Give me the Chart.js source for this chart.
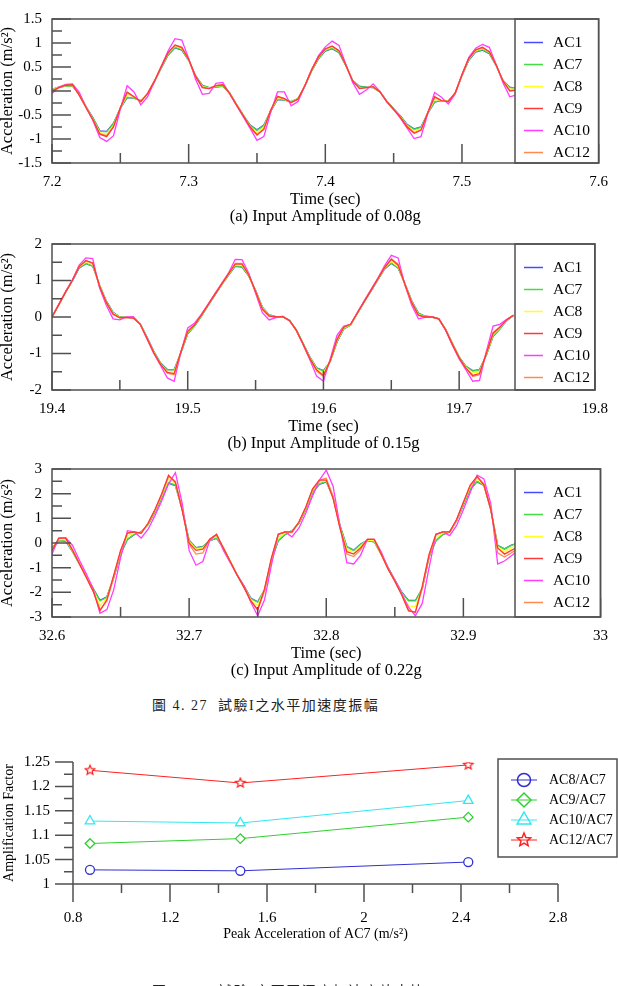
<!DOCTYPE html>
<html>
<head>
<meta charset="utf-8">
<title>Test I acceleration amplitude</title>
<script src="https://cdn.jsdelivr.net/npm/chart.js@4.4.1/dist/chart.umd.min.js"></script>
<style>
  body { margin: 0; background: #fff; }
  #page { position: relative; width: 618px; height: 986px; overflow: hidden; background: #fff; }
  #page canvas { position: absolute; left: 0; }
  .caption { position: absolute; left: 152px; font-family: "Liberation Serif", "Noto Sans CJK TC", serif; font-size: 14px; line-height: 16px; color: #222; white-space: pre; letter-spacing: 1.5px; }
</style>
</head>
<body>
<div id="page">
  <canvas id="chartA" width="618" height="226" style="top:0px"></canvas>
  <canvas id="chartB" width="618" height="228" style="top:225px"></canvas>
  <canvas id="chartC" width="618" height="230" style="top:450px"></canvas>
  <div class="caption" style="top:698px">圖 4. 27  試驗I之水平加速度振幅</div>
  <canvas id="chartD" width="618" height="256" style="top:730px"></canvas>
  <div class="caption" style="top:984px">圖 4. 28  試驗I之不同深度加速度放大比</div>
</div>
<script>
// (a) input amplitude 0.08g
const timeA = [7.2,7.205,7.21,7.215,7.22,7.225,7.23,7.235,7.24,7.245,
  7.25,7.255,7.26,7.265,7.27,7.275,7.28,7.285,7.29,7.295,
  7.3,7.305,7.31,7.315,7.32,7.325,7.33,7.335,7.34,7.345,
  7.35,7.355,7.36,7.365,7.37,7.375,7.38,7.385,7.39,7.395,
  7.4,7.405,7.41,7.415,7.42,7.425,7.43,7.435,7.44,7.445,
  7.45,7.455,7.46,7.465,7.47,7.475,7.48,7.485,7.49,7.495,
  7.5,7.505,7.51,7.515,7.52,7.525,7.53,7.535,7.54];
const ac1A = [0.03,0.08,0.10,0.10,-0.07,-0.33,-0.56,-0.83,-0.84,-0.67,-0.36,-0.14,-0.15,-0.20,-0.06,0.20,0.48,0.75,0.90,0.85,0.64,0.32,0.12,0.07,0.08,0.10,-0.04,-0.28,-0.50,-0.71,-0.81,-0.71,-0.42,-0.18,-0.19,-0.22,-0.16,0.10,0.42,0.67,0.83,0.88,0.80,0.53,0.22,0.10,0.08,0.07,-0.02,-0.21,-0.37,-0.52,-0.70,-0.79,-0.75,-0.46,-0.23,-0.20,-0.20,-0.05,0.32,0.64,0.81,0.85,0.78,0.53,0.22,0.08,0.05];
const ac7A = [0.03,0.08,0.10,0.10,-0.07,-0.33,-0.57,-0.84,-0.85,-0.68,-0.36,-0.13,-0.15,-0.20,-0.06,0.20,0.49,0.76,0.91,0.86,0.64,0.32,0.11,0.07,0.08,0.10,-0.04,-0.28,-0.50,-0.72,-0.82,-0.72,-0.42,-0.17,-0.19,-0.22,-0.16,0.10,0.42,0.68,0.84,0.89,0.81,0.53,0.22,0.09,0.08,0.07,-0.02,-0.21,-0.37,-0.53,-0.71,-0.80,-0.76,-0.46,-0.22,-0.20,-0.20,-0.05,0.32,0.65,0.82,0.86,0.79,0.53,0.22,0.07,0.05];
const ac8A = [0.02,0.08,0.11,0.12,-0.08,-0.34,-0.59,-0.87,-0.90,-0.72,-0.36,-0.07,-0.13,-0.21,-0.05,0.21,0.50,0.78,0.94,0.89,0.65,0.31,0.09,0.06,0.10,0.12,-0.04,-0.28,-0.51,-0.74,-0.87,-0.76,-0.41,-0.14,-0.17,-0.23,-0.16,0.11,0.43,0.70,0.86,0.92,0.83,0.54,0.21,0.07,0.07,0.08,-0.02,-0.22,-0.38,-0.54,-0.73,-0.84,-0.79,-0.45,-0.17,-0.20,-0.21,-0.04,0.33,0.67,0.84,0.89,0.81,0.54,0.21,0.04,0.04];
const ac9A = [0.00,0.07,0.12,0.13,-0.09,-0.35,-0.60,-0.90,-0.95,-0.75,-0.35,-0.02,-0.12,-0.22,-0.05,0.21,0.51,0.80,0.96,0.91,0.66,0.31,0.07,0.05,0.11,0.13,-0.05,-0.29,-0.52,-0.75,-0.92,-0.80,-0.40,-0.11,-0.16,-0.24,-0.17,0.11,0.44,0.71,0.88,0.94,0.84,0.54,0.21,0.05,0.07,0.09,-0.02,-0.22,-0.38,-0.55,-0.75,-0.88,-0.82,-0.45,-0.12,-0.20,-0.22,-0.04,0.34,0.68,0.86,0.91,0.82,0.54,0.21,0.00,0.02];
const ac10A = [-0.05,0.08,0.14,0.15,-0.03,-0.35,-0.62,-0.97,-1.05,-0.93,-0.38,0.11,-0.02,-0.29,-0.12,0.20,0.52,0.84,1.09,1.06,0.68,0.25,-0.07,-0.05,0.16,0.18,-0.06,-0.30,-0.54,-0.78,-1.03,-0.95,-0.45,-0.02,-0.02,-0.31,-0.22,0.11,0.45,0.74,0.92,1.04,0.95,0.56,0.18,-0.07,0.02,0.15,-0.01,-0.23,-0.39,-0.57,-0.78,-0.99,-0.95,-0.47,-0.03,-0.13,-0.27,-0.06,0.34,0.70,0.89,0.97,0.91,0.55,0.17,-0.12,-0.08];
const ac12A = [0.01,0.07,0.12,0.12,-0.09,-0.35,-0.60,-0.89,-0.93,-0.74,-0.35,-0.04,-0.12,-0.22,-0.05,0.21,0.51,0.79,0.95,0.90,0.66,0.31,0.08,0.05,0.11,0.13,-0.05,-0.29,-0.52,-0.75,-0.90,-0.79,-0.40,-0.12,-0.16,-0.24,-0.17,0.11,0.44,0.71,0.87,0.93,0.84,0.54,0.21,0.06,0.07,0.09,-0.02,-0.22,-0.38,-0.55,-0.74,-0.87,-0.81,-0.45,-0.13,-0.20,-0.22,-0.04,0.34,0.68,0.85,0.90,0.82,0.54,0.21,0.01,0.02];
const xTicksA = ['7.2', '7.3', '7.4', '7.5', '7.6'];
const xMinorA = [7.25, 7.35, 7.45, 7.55];
const yTicksA = ['-1.5', '-1', '-0.5', '0', '0.5', '1', '1.5'];
const yMinorA = [-1.25, -0.75, -0.25, 0.25, 0.75, 1.25];

// (b) input amplitude 0.15g
const timeB = [19.4,19.405,19.41,19.415,19.42,19.425,19.43,19.435,19.44,19.445,
  19.45,19.455,19.46,19.465,19.47,19.475,19.48,19.485,19.49,19.495,
  19.5,19.505,19.51,19.515,19.52,19.525,19.53,19.535,19.54,19.545,
  19.55,19.555,19.56,19.565,19.57,19.575,19.58,19.585,19.59,19.595,
  19.6,19.605,19.61,19.615,19.62,19.625,19.63,19.635,19.64,19.645,
  19.65,19.655,19.66,19.665,19.67,19.675,19.68,19.685,19.69,19.695,
  19.7,19.705,19.71,19.715,19.72,19.725,19.73,19.735,19.74];
const ac1B = [0.00,0.34,0.68,0.99,1.34,1.46,1.39,0.88,0.44,0.13,0.00,-0.01,-0.03,-0.18,-0.55,-0.94,-1.26,-1.44,-1.44,-0.98,-0.46,-0.25,0.02,0.32,0.60,0.88,1.14,1.39,1.37,1.12,0.73,0.27,0.06,0.01,0.01,-0.09,-0.35,-0.72,-1.09,-1.39,-1.47,-1.22,-0.69,-0.33,-0.22,0.10,0.41,0.71,1.01,1.31,1.47,1.34,0.92,0.45,0.11,0.02,0.00,-0.05,-0.34,-0.72,-1.09,-1.35,-1.47,-1.44,-1.05,-0.53,-0.33,-0.10,0.04];
const ac7B = [0.00,0.34,0.68,1.00,1.35,1.47,1.40,0.88,0.43,0.12,0.00,-0.01,-0.03,-0.18,-0.56,-0.95,-1.27,-1.45,-1.45,-0.98,-0.45,-0.25,0.02,0.32,0.61,0.88,1.15,1.40,1.38,1.12,0.72,0.26,0.06,0.01,0.01,-0.09,-0.35,-0.72,-1.10,-1.40,-1.48,-1.22,-0.68,-0.32,-0.22,0.10,0.41,0.72,1.02,1.32,1.48,1.35,0.92,0.44,0.10,0.02,0.00,-0.05,-0.34,-0.73,-1.10,-1.36,-1.48,-1.45,-1.05,-0.52,-0.32,-0.10,0.04];
const ac8B = [0.00,0.34,0.68,1.00,1.37,1.51,1.44,0.86,0.41,0.10,-0.01,-0.01,-0.03,-0.19,-0.57,-0.97,-1.29,-1.49,-1.50,-0.96,-0.42,-0.23,0.04,0.33,0.62,0.89,1.17,1.43,1.42,1.14,0.71,0.24,0.04,0.00,0.01,-0.10,-0.36,-0.73,-1.12,-1.43,-1.54,-1.21,-0.65,-0.30,-0.21,0.10,0.42,0.73,1.03,1.34,1.53,1.38,0.91,0.42,0.07,0.01,0.00,-0.05,-0.35,-0.74,-1.11,-1.38,-1.54,-1.50,-1.02,-0.48,-0.30,-0.09,0.05];
const ac9B = [0.00,0.34,0.68,1.00,1.38,1.55,1.48,0.85,0.40,0.08,-0.02,-0.01,-0.03,-0.20,-0.58,-0.98,-1.30,-1.52,-1.55,-0.95,-0.40,-0.22,0.05,0.33,0.62,0.90,1.18,1.45,1.45,1.15,0.70,0.22,0.03,0.00,0.01,-0.10,-0.36,-0.74,-1.14,-1.45,-1.60,-1.20,-0.62,-0.28,-0.20,0.11,0.42,0.73,1.04,1.35,1.58,1.42,0.90,0.40,0.05,0.00,0.00,-0.05,-0.35,-0.75,-1.12,-1.40,-1.60,-1.55,-1.00,-0.45,-0.28,-0.08,0.05];
const ac10B = [0.00,0.35,0.70,1.02,1.42,1.62,1.60,0.80,0.32,-0.05,-0.08,0.00,0.01,-0.20,-0.60,-1.00,-1.33,-1.67,-1.76,-0.96,-0.30,-0.17,0.07,0.35,0.64,0.92,1.20,1.58,1.57,1.20,0.65,0.12,-0.08,-0.02,0.02,-0.10,-0.37,-0.76,-1.17,-1.62,-1.76,-1.15,-0.50,-0.25,-0.20,0.13,0.44,0.75,1.06,1.40,1.69,1.62,0.88,0.33,-0.05,-0.01,0.01,-0.05,-0.36,-0.77,-1.15,-1.45,-1.76,-1.74,-0.95,-0.25,-0.20,-0.06,0.05];
const ac12B = [0.00,0.34,0.68,1.00,1.38,1.54,1.47,0.84,0.39,0.07,-0.02,-0.01,-0.03,-0.20,-0.58,-0.98,-1.30,-1.54,-1.58,-0.95,-0.38,-0.21,0.05,0.33,0.62,0.90,1.18,1.47,1.47,1.16,0.69,0.20,0.02,0.00,0.01,-0.10,-0.36,-0.74,-1.14,-1.48,-1.63,-1.19,-0.60,-0.27,-0.20,0.11,0.42,0.73,1.04,1.36,1.60,1.45,0.89,0.38,0.04,0.00,0.00,-0.05,-0.35,-0.75,-1.12,-1.41,-1.63,-1.58,-0.98,-0.42,-0.27,-0.08,0.05];
const xTicksB = ['19.4', '19.5', '19.6', '19.7', '19.8'];
const xMinorB = [19.45, 19.55, 19.65, 19.75];
const yTicksB = ['-2', '-1', '0', '1', '2'];
const yMinorB = [-1.5, -0.5, 0.5, 1.5];

// (c) input amplitude 0.22g
const timeC = [32.6,32.605,32.61,32.615,32.62,32.625,32.63,32.635,32.64,32.645,
  32.65,32.655,32.66,32.665,32.67,32.675,32.68,32.685,32.69,32.695,
  32.7,32.705,32.71,32.715,32.72,32.725,32.73,32.735,32.74,32.745,
  32.75,32.755,32.76,32.765,32.77,32.775,32.78,32.785,32.79,32.795,
  32.8,32.805,32.81,32.815,32.82,32.825,32.83,32.835,32.84,32.845,
  32.85,32.855,32.86,32.865,32.87,32.875,32.88,32.885,32.89,32.895,
  32.9,32.905,32.91,32.915,32.92,32.925,32.93,32.935,32.94];
const ac1C = [-0.20,0.10,0.07,-0.35,-0.85,-1.35,-1.84,-2.32,-2.18,-1.41,-0.46,0.14,0.34,0.45,0.75,1.24,1.83,2.42,2.33,1.36,0.11,-0.19,-0.14,0.10,0.19,-0.20,-0.75,-1.29,-1.74,-2.23,-2.38,-1.90,-0.71,0.09,0.34,0.50,0.80,1.34,2.03,2.38,2.48,1.85,0.71,-0.14,-0.29,-0.04,0.10,0.05,-0.45,-0.99,-1.49,-1.98,-2.33,-2.33,-1.85,-0.56,0.09,0.34,0.45,0.89,1.53,2.18,2.48,2.33,1.36,-0.09,-0.24,-0.09,0.00];
const ac7C = [-0.20,0.10,0.08,-0.35,-0.85,-1.35,-1.85,-2.35,-2.20,-1.40,-0.45,0.15,0.35,0.45,0.75,1.25,1.85,2.45,2.35,1.35,0.10,-0.20,-0.15,0.10,0.20,-0.20,-0.75,-1.30,-1.75,-2.25,-2.40,-1.90,-0.70,0.10,0.35,0.50,0.80,1.35,2.05,2.40,2.50,1.85,0.70,-0.15,-0.30,-0.05,0.10,0.05,-0.45,-1.00,-1.50,-2.00,-2.35,-2.35,-1.85,-0.55,0.10,0.35,0.45,0.90,1.55,2.20,2.50,2.35,1.35,-0.10,-0.25,-0.10,0.00];
const ac8C = [-0.25,0.15,0.14,-0.32,-0.85,-1.38,-1.90,-2.55,-2.25,-1.35,-0.38,0.28,0.40,0.42,0.78,1.30,1.92,2.60,2.40,1.32,0.05,-0.25,-0.20,0.12,0.28,-0.20,-0.75,-1.30,-1.78,-2.30,-2.55,-1.88,-0.65,0.22,0.40,0.48,0.82,1.40,2.12,2.48,2.52,1.82,0.65,-0.25,-0.38,-0.12,0.12,0.10,-0.45,-1.02,-1.52,-2.05,-2.55,-2.58,-1.80,-0.50,0.22,0.40,0.45,0.92,1.60,2.28,2.60,2.35,1.35,-0.15,-0.35,-0.20,-0.08];
const ac9C = [-0.30,0.20,0.20,-0.30,-0.85,-1.40,-1.95,-2.75,-2.30,-1.30,-0.30,0.40,0.45,0.40,0.80,1.35,2.00,2.75,2.45,1.30,0.00,-0.30,-0.25,0.15,0.35,-0.20,-0.75,-1.30,-1.80,-2.35,-2.70,-1.85,-0.60,0.35,0.45,0.45,0.85,1.45,2.20,2.55,2.55,1.80,0.60,-0.35,-0.45,-0.20,0.15,0.15,-0.45,-1.05,-1.55,-2.10,-2.75,-2.80,-1.75,-0.45,0.35,0.45,0.45,0.95,1.65,2.35,2.70,2.35,1.35,-0.20,-0.45,-0.30,-0.15];
const ac10C = [-0.45,0.20,0.22,-0.10,-0.70,-1.25,-1.85,-2.85,-2.70,-1.90,-0.60,0.50,0.45,0.20,0.55,1.10,1.70,2.40,2.85,1.60,-0.30,-0.90,-0.75,0.10,0.35,-0.30,-0.80,-1.30,-1.75,-2.40,-2.95,-2.30,-0.90,0.35,0.45,0.25,0.60,1.20,1.90,2.55,2.95,2.30,0.70,-0.80,-0.85,-0.50,0.15,0.15,-0.35,-1.00,-1.50,-2.05,-2.60,-2.95,-2.45,-1.00,0.35,0.45,0.30,0.70,1.35,2.05,2.75,2.60,1.60,-0.85,-0.73,-0.52,-0.30];
const ac12C = [-0.32,0.20,0.20,-0.28,-0.82,-1.38,-1.95,-2.70,-2.35,-1.40,-0.35,0.40,0.45,0.38,0.78,1.32,1.95,2.70,2.50,1.35,-0.05,-0.45,-0.40,0.15,0.35,-0.22,-0.76,-1.30,-1.80,-2.35,-2.72,-1.95,-0.65,0.35,0.45,0.42,0.82,1.42,2.15,2.55,2.62,1.90,0.62,-0.45,-0.55,-0.28,0.15,0.15,-0.43,-1.03,-1.55,-2.10,-2.72,-2.82,-1.85,-0.55,0.35,0.45,0.43,0.92,1.62,2.32,2.68,2.40,1.40,-0.40,-0.57,-0.40,-0.22];
const xTicksC = ['32.6', '32.7', '32.8', '32.9', '33'];
const xMinorC = [32.65, 32.75, 32.85, 32.95];
const yTicksC = ['-3', '-2', '-1', '0', '1', '2', '3'];
const yMinorC = [-2.5, -1.5, -0.5, 0.5, 1.5, 2.5];

// amplification factor vs peak acceleration of AC7
const peakAC7 = [0.87, 1.49, 2.43];
const ratioAC8 = [1.029, 1.027, 1.045];
const ratioAC9 = [1.083, 1.093, 1.137];
const ratioAC10 = [1.129, 1.125, 1.171];
const ratioAC12 = [1.233, 1.207, 1.244];
const ratioNames = ['AC8/AC7', 'AC9/AC7', 'AC10/AC7', 'AC12/AC7'];
const xTicksD = ['0.8', '1.2', '1.6', '2', '2.4', '2.8'];
const xMinorD = [1.0, 1.4, 1.8, 2.2, 2.6];
const yTicksD = ['1', '1.05', '1.1', '1.15', '1.2', '1.25'];
const yMinorD = [1.025, 1.075, 1.125, 1.175, 1.225];

const waveNames = ['AC1', 'AC7', 'AC8', 'AC9', 'AC10', 'AC12'];
const waveColors = ['#4848ff', '#44dd44', '#ffff22', '#ff3838', '#ff3cff', '#ff8a50'];
const waveOrder = [6, 5, 4, 1, 3, 2];   // red on top, blue at the bottom
const ratioColors = ['#3030d0', '#30d030', '#30e8f0', '#ff2020'];
const ratioStyles = ['circle', 'rectRot', 'triangle', 'star'];

const SERIF = '"Liberation Serif", "Times New Roman", serif';
const AXIS = '#505050';
Chart.defaults.font.family = SERIF;
Chart.defaults.color = '#000';

// per canvas settings for the tick / legend plugin
const frames = {};

function starPath(g, cx, cy, r) {
    g.beginPath();
    for (let i = 0; i < 10; i++) {
        const rr = i % 2 ? r * 0.45 : r;
        const ang = -Math.PI / 2 + i * Math.PI / 5;
        const px = cx + rr * Math.cos(ang), py = cy + rr * Math.sin(ang);
        if (i === 0) g.moveTo(px, py); else g.lineTo(px, py);
    }
    g.closePath();
}

function starImage(r, color) {
    const c = document.createElement('canvas');
    c.width = c.height = Math.ceil(r * 2 + 4);
    const g = c.getContext('2d');
    starPath(g, c.width / 2, c.height / 2, r);
    g.fillStyle = '#fff';
    g.fill();
    g.strokeStyle = color;
    g.lineWidth = 1.2;
    g.stroke();
    return c;
}

function drawMark(g, style, cx, cy, r, color) {
    g.save();
    g.strokeStyle = color;
    g.lineWidth = 1.5;
    if (style === 'circle') {
        g.beginPath();
        g.arc(cx, cy, r, 0, Math.PI * 2);
    } else if (style === 'rectRot') {
        g.beginPath();
        g.moveTo(cx - r, cy); g.lineTo(cx, cy - r); g.lineTo(cx + r, cy); g.lineTo(cx, cy + r);
        g.closePath();
    } else if (style === 'triangle') {
        g.beginPath();
        g.moveTo(cx, cy - r); g.lineTo(cx + r * 0.866, cy + r / 2); g.lineTo(cx - r * 0.866, cy + r / 2);
        g.closePath();
    } else {
        starPath(g, cx, cy, r);
    }
    g.stroke();
    g.restore();
}

const framePlugin = {
    id: 'frame',
    afterDatasetsDraw(chart) {
        const f = frames[chart.canvas.id];
        const ctx = chart.ctx, a = chart.chartArea;
        const xs = chart.scales.x, ys = chart.scales.y;
        const dir = f.inside ? -1 : 1;
        ctx.save();
        ctx.strokeStyle = AXIS;
        ctx.lineWidth = 1.5;
        ctx.beginPath();
        const tickX = (v, len) => { const p = xs.getPixelForValue(v); ctx.moveTo(p, a.bottom); ctx.lineTo(p, a.bottom + dir * len); };
        const tickY = (v, len) => { const p = ys.getPixelForValue(v); ctx.moveTo(a.left, p); ctx.lineTo(a.left - dir * len, p); };
        f.xMajor.forEach(v => tickX(v, f.major));
        f.xMinor.forEach(v => tickX(v, f.minor));
        f.yMajor.forEach(v => tickY(v, f.major));
        f.yMinor.forEach(v => tickY(v, f.minor));
        ctx.stroke();

        if (f.inside) {
            // legend panel covering the right part of the plot
            const lx = f.legendLeft;
            ctx.fillStyle = '#fff';
            ctx.fillRect(lx, a.top, a.right - lx, a.bottom - a.top);
            ctx.strokeRect(lx, a.top, a.right - lx, a.bottom - a.top);
            ctx.font = '15.5px ' + SERIF;
            ctx.textBaseline = 'middle';
            ctx.fillStyle = '#000';
            waveNames.forEach((n, i) => {
                const y = a.top + 23.5 + i * 22;
                ctx.strokeStyle = waveColors[i];
                ctx.lineWidth = 1.5;
                ctx.beginPath(); ctx.moveTo(524, y); ctx.lineTo(543, y); ctx.stroke();
                ctx.fillText(n, 553, y);
            });
            ctx.strokeStyle = AXIS;
            ctx.lineWidth = 1.5;
            ctx.strokeRect(a.left, a.top, a.right - a.left, a.bottom - a.top);
        } else {
            ctx.beginPath();
            ctx.moveTo(a.left, a.top); ctx.lineTo(a.left, a.bottom); ctx.lineTo(a.right, a.bottom);
            ctx.stroke();
            ctx.fillStyle = '#fff';
            ctx.fillRect(498, 29, 119, 98);
            ctx.strokeRect(498, 29, 119, 98);
            ctx.font = '14px ' + SERIF;
            ctx.textBaseline = 'middle';
            ratioNames.forEach((n, i) => {
                const y = 50 + i * 20;
                ctx.strokeStyle = ratioColors[i];
                ctx.lineWidth = 1;
                ctx.beginPath(); ctx.moveTo(511, y); ctx.lineTo(537, y); ctx.stroke();
                drawMark(ctx, ratioStyles[i], 524, y, [6.5, 7, 8, 7][i], ratioColors[i]);
                ctx.fillStyle = '#000';
                ctx.fillText(n, 549, y);
            });
        }
        ctx.restore();
    }
};

function waveChart(id, times, series, xLabels, xMinor, yLabels, yMinor, caption, top, bottom) {
    const xVals = xLabels.map(Number), yVals = yLabels.map(Number);
    frames[id] = { inside: true, major: 19, minor: 10, xMajor: xVals, xMinor: xMinor, yMajor: yVals, yMinor: yMinor, legendLeft: 515 };
    const canvas = document.getElementById(id);
    const H = canvas.height;
    new Chart(canvas, {
        type: 'line',
        data: {
            datasets: series.map((d, i) => ({
                label: waveNames[i],
                data: d.map((v, k) => ({ x: times[k], y: v })),
                borderColor: waveColors[i],
                borderWidth: 1.3,
                pointRadius: 0,
                tension: 0,
                fill: false,
                order: waveOrder[i]
            }))
        },
        options: {
            responsive: false, animation: false, events: [],
            layout: { padding: { top: top, right: 17, left: 0, bottom: 0 } },
            plugins: { legend: { display: false }, tooltip: { enabled: false } },
            scales: {
                x: {
                    type: 'linear', min: xVals[0], max: xVals[xVals.length - 1],
                    afterBuildTicks: s => { s.ticks = xVals.map(v => ({ value: v })); },
                    afterFit: s => { s.height = H - bottom; },
                    grid: { display: false, drawTicks: false }, border: { display: false },
                    ticks: { padding: 10, autoSkip: false, maxRotation: 0, font: { size: 15 }, color: '#000', callback: (v, i) => xLabels[i] },
                    title: { display: true, text: ['Time (sec)', caption], color: '#000', font: { size: 16.5, lineHeight: 17 / 16.5 }, padding: { top: 0, bottom: 0.5 } }
                },
                y: {
                    min: yVals[0], max: yVals[yVals.length - 1],
                    afterBuildTicks: s => { s.ticks = yVals.map(v => ({ value: v })); },
                    afterFit: s => { s.width = 52; },
                    grid: { display: false, drawTicks: false }, border: { display: false },
                    ticks: { padding: 10, autoSkip: false, font: { size: 15 }, color: '#000', callback: (v, i) => yLabels[i] },
                    title: { display: true, text: 'Acceleration (m/s²)', color: '#000', font: { size: 16.5, lineHeight: 17 / 16.5 }, padding: { top: -1, bottom: 0 } }
                }
            }
        },
        plugins: [framePlugin]
    });
}

waveChart('chartA', timeA, [ac1A, ac7A, ac8A, ac9A, ac10A, ac12A], xTicksA, xMinorA, yTicksA, yMinorA, '(a) Input Amplitude of 0.08g', 12, 163);
waveChart('chartB', timeB, [ac1B, ac7B, ac8B, ac9B, ac10B, ac12B], xTicksB, xMinorB, yTicksB, yMinorB, '(b) Input Amplitude of 0.15g', 14, 165);
waveChart('chartC', timeC, [ac1C, ac7C, ac8C, ac9C, ac10C, ac12C], xTicksC, xMinorC, yTicksC, yMinorC, '(c) Input Amplitude of 0.22g', 16, 167);

// amplification factor chart
(function () {
    const id = 'chartD';
    const xVals = xTicksD.map(Number), yVals = yTicksD.map(Number);
    frames[id] = { inside: false, major: 18, minor: 9, xMajor: xVals, xMinor: xMinorD, yMajor: yVals, yMinor: yMinorD };
    const canvas = document.getElementById(id);
    const H = canvas.height;
    const ratios = [ratioAC8, ratioAC9, ratioAC10, ratioAC12];
    new Chart(canvas, {
        type: 'scatter',
        data: {
            datasets: ratios.map((d, i) => ({
                label: ratioNames[i],
                data: d.map((v, k) => ({ x: peakAC7[k], y: v })),
                showLine: true,
                borderColor: ratioColors[i],
                borderWidth: 1,
                pointStyle: ratioStyles[i] === 'star' ? starImage(5, ratioColors[i]) : ratioStyles[i],
                pointRadius: [4.5, 4.8, 5.5, 5][i],
                pointBorderWidth: 1.3,
                pointBorderColor: ratioColors[i],
                pointBackgroundColor: '#fff'
            }))
        },
        options: {
            responsive: false, animation: false, events: [],
            layout: { padding: { top: 19, right: 60, left: 0, bottom: 0 } },
            plugins: { legend: { display: false }, tooltip: { enabled: false } },
            scales: {
                x: {
                    type: 'linear', min: xVals[0], max: xVals[xVals.length - 1],
                    afterBuildTicks: s => { s.ticks = xVals.map(v => ({ value: v })); },
                    afterFit: s => { s.height = H - 154; },
                    grid: { display: false, drawTicks: false }, border: { display: false },
                    ticks: { padding: 25, autoSkip: false, maxRotation: 0, font: { size: 15 }, color: '#000', callback: (v, i) => xTicksD[i] },
                    title: { display: true, text: 'Peak Acceleration of AC7 (m/s²)', color: '#000', font: { size: 14 }, padding: { top: 0, bottom: 43.6 } }
                },
                y: {
                    min: yVals[0], max: yVals[yVals.length - 1],
                    afterBuildTicks: s => { s.ticks = yVals.map(v => ({ value: v })); },
                    afterFit: s => { s.width = 73; },
                    grid: { display: false, drawTicks: false }, border: { display: false },
                    ticks: { padding: 23, autoSkip: false, font: { size: 15 }, color: '#000', callback: (v, i) => yTicksD[i] },
                    title: { display: true, text: 'Amplification Factor', color: '#000', font: { size: 14 }, padding: { top: 0.6, bottom: 0 } }
                }
            }
        },
        plugins: [framePlugin]
    });
})();
</script>
</body>
</html>
